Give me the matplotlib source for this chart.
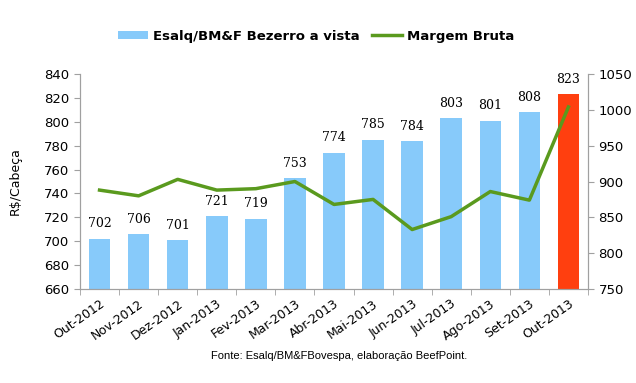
import numpy as np
import matplotlib.pyplot as plt

months = ["Out-2012", "Nov-2012", "Dez-2012", "Jan-2013", "Fev-2013", "Mar-2013", "Abr-2013",
          "Mai-2013", "Jun-2013", "Jul-2013", "Ago-2013", "Set-2013", "Out-2013"]
bezerro = [702, 706, 701, 721, 719, 753, 774, 785, 784, 803, 801, 808, 823]
margem = [888, 880, 903, 888, 890, 900, 868, 875, 833, 851, 886, 874, 1004]

fig = plt.figure(figsize=(6.36, 3.83), dpi=100)
ax = fig.add_axes([0.1258, 0.2454, 0.7987, 0.5614])
ax2 = ax.twinx()

x = np.arange(len(months))
colors = ["#87CAFA"] * (len(months) - 1) + ["#FF3F0F"]
bars = ax.bar(x, bezerro, width=0.55, color=colors, label="Esalq/BM&F Bezerro a vista", zorder=2)
for xi, v in zip(x, bezerro):
    ax.text(xi, v + 7, str(v), ha="center", va="bottom", fontsize=9, family="DejaVu Serif")

ax2.plot(x, margem, color="#5A9A1E", lw=2.5, label="Margem Bruta", zorder=3)
ax.set_zorder(ax2.get_zorder() - 1)
ax.patch.set_visible(False)

ax.set_xlim(-0.5, len(months) - 0.5)
ax.set_ylim(660, 840)
ax.set_yticks(range(660, 841, 20))
ax2.set_ylim(750, 1050)
ax2.set_yticks(range(750, 1051, 50))

ax.set_xticks(x)
ax.set_xticklabels(months, rotation=35, ha="right", rotation_mode="anchor", fontsize=9)
ax.tick_params(axis="x", length=0, pad=6)
ax.set_xticks(np.arange(-0.5, len(months)), minor=True)
ax.tick_params(axis="x", which="minor", length=4, color="#A0A0A0")
ax.tick_params(axis="y", labelsize=9.5, color="#A0A0A0", length=4)
ax2.tick_params(axis="y", labelsize=9.5, color="#A0A0A0", length=4)

for a in (ax, ax2):
    a.spines["top"].set_visible(False)
    for s in ("left", "right", "bottom"):
        a.spines[s].set_color("#A0A0A0")

ax.set_ylabel("R$/Cabeça", fontsize=9, labelpad=16)

h1, l1 = ax.get_legend_handles_labels()
h2, l2 = ax2.get_legend_handles_labels()
fig.legend(h1 + h2, l1 + l2, loc="center", bbox_to_anchor=(0.497, 0.906), ncol=2, frameon=False,
           prop={"weight": "bold", "size": 9.5}, handlelength=2.25, handleheight=0.6,
           handletextpad=0.38, columnspacing=1.0)

fig.text(0.533, 0.0705, "Fonte: Esalq/BM&FBovespa, elaboração BeefPoint.", ha="center", va="center",
         fontsize=8, family="Liberation Sans")

fig.savefig("out.png", dpi=100)
